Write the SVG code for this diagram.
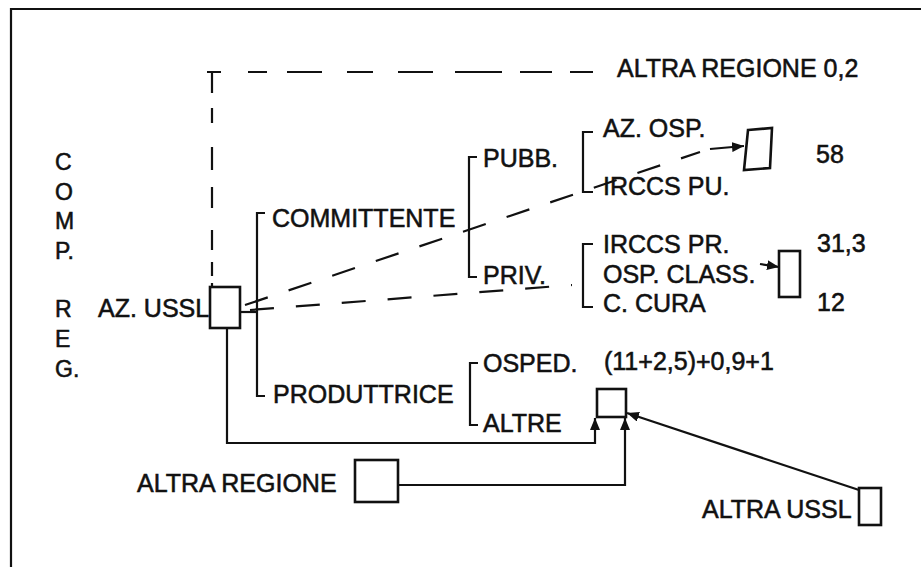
<svg xmlns="http://www.w3.org/2000/svg" width="921" height="567" viewBox="0 0 921 567">
<defs>
<style>
text { font-family: "Liberation Sans", Arial, sans-serif; font-size: 25px; fill: #111; stroke: #111; stroke-width: 0.55; }
.v { font-size: 23px; }
.ln { stroke: #111; stroke-width: 2.2; fill: none; }
.ds { stroke: #111; stroke-width: 2.2; fill: none; stroke-dasharray: 24 22; }
.bx { stroke: #111; stroke-width: 2.6; fill: #fff; }
</style>
<marker id="ah" viewBox="0 0 12 10" refX="12" refY="5" markerWidth="12" markerHeight="10" markerUnits="userSpaceOnUse" orient="auto">
<path d="M0,0 L12,5 L0,10 z" fill="#111"/>
</marker>
</defs>
<rect width="921" height="567" fill="#fff"/>
<path class="ln" d="M11,567 V9 H921" stroke-width="1.5"/>

<g id="comp-reg">
<text class="v" x="55" y="170">C</text>
<text class="v" x="55" y="200">O</text>
<text class="v" x="55" y="229">M</text>
<text class="v" x="55" y="259">P.</text>
<text class="v" x="55" y="317">R</text>
<text class="v" x="55" y="347">E</text>
<text class="v" x="55" y="377">G.</text>
</g>

<g id="connectors">
<path class="ln" d="M207,72 H593" stroke-dasharray="14 27 19 20 35 25 26 25 35 22 47 18 32 18 23 100"/>
<path class="ln" d="M212,72 V287" stroke-dasharray="21 15 15 24 23 17 21 22 20 12 14 7 4 100"/>
<path class="ds" d="M245,305 L700,152"/>
<path class="ln" d="M710,149 L744,146" marker-end="url(#ah)"/>
<path class="ds" d="M250,310 L572,285"/>
<path class="ln" d="M240,312 H257"/>
<path class="ln" d="M265,213 H257 V396 H265"/>
<path class="ln" d="M477,157 H469 V277 H477"/>
<path class="ln" d="M593,132 H583 V192 H593"/>
<path class="ln" d="M593,244 H583 V307 H593"/>
<path class="ln" d="M478,363 H470 V425 H478"/>
<path class="ln" d="M227,329 V443 H595 V418" marker-end="url(#ah)"/>
<path class="ln" d="M398,485 H625 V418" marker-end="url(#ah)"/>
<path class="ln" d="M859,490 L627,413" marker-end="url(#ah)"/>
<path class="ln" d="M760,264 L779,267" marker-end="url(#ah)"/>
</g>

<g id="altra-regione-top"><text x="617" y="77">ALTRA REGIONE 0,2</text></g>
<g id="az-ussl">
<text x="98" y="317">AZ. USSL</text>
<rect class="bx" x="210" y="287" width="30" height="41"/>
</g>
<g id="committente"><text x="272" y="227">COMMITTENTE</text></g>
<g id="produttrice"><text x="273" y="403">PRODUTTRICE</text></g>
<g id="pubb"><text x="483" y="167">PUBB.</text></g>
<g id="priv"><text x="483" y="284">PRIV.</text></g>
<g id="az-osp"><text x="603" y="137">AZ. OSP.</text></g>
<g id="irccs-pu"><text x="603" y="195">IRCCS PU.</text></g>
<g id="irccs-pr"><text x="603" y="253">IRCCS PR.</text></g>
<g id="osp-class"><text x="603" y="283">OSP. CLASS.</text></g>
<g id="c-cura"><text x="603" y="312">C. CURA</text></g>
<g id="box-58">
<polygon class="bx" points="748,130 772,128 770,168 744,170"/>
<text x="816" y="163">58</text>
</g>
<g id="box-priv">
<rect class="bx" x="779" y="251" width="21" height="46"/>
<text x="817" y="252">31,3</text>
<text x="817" y="311">12</text>
</g>
<g id="osped"><text x="483" y="372">OSPED.</text></g>
<g id="altre"><text x="483" y="432">ALTRE</text></g>
<g id="box-prod">
<text x="604" y="370">(11+2,5)+0,9+1</text>
<rect class="bx" x="597" y="389" width="29" height="28"/>
</g>
<g id="altra-regione">
<text x="137" y="492">ALTRA REGIONE</text>
<rect class="bx" x="355" y="460" width="43" height="42"/>
</g>
<g id="altra-ussl">
<text x="702" y="518">ALTRA USSL</text>
<rect class="bx" x="859" y="488" width="22" height="37"/>
</g>
</svg>
